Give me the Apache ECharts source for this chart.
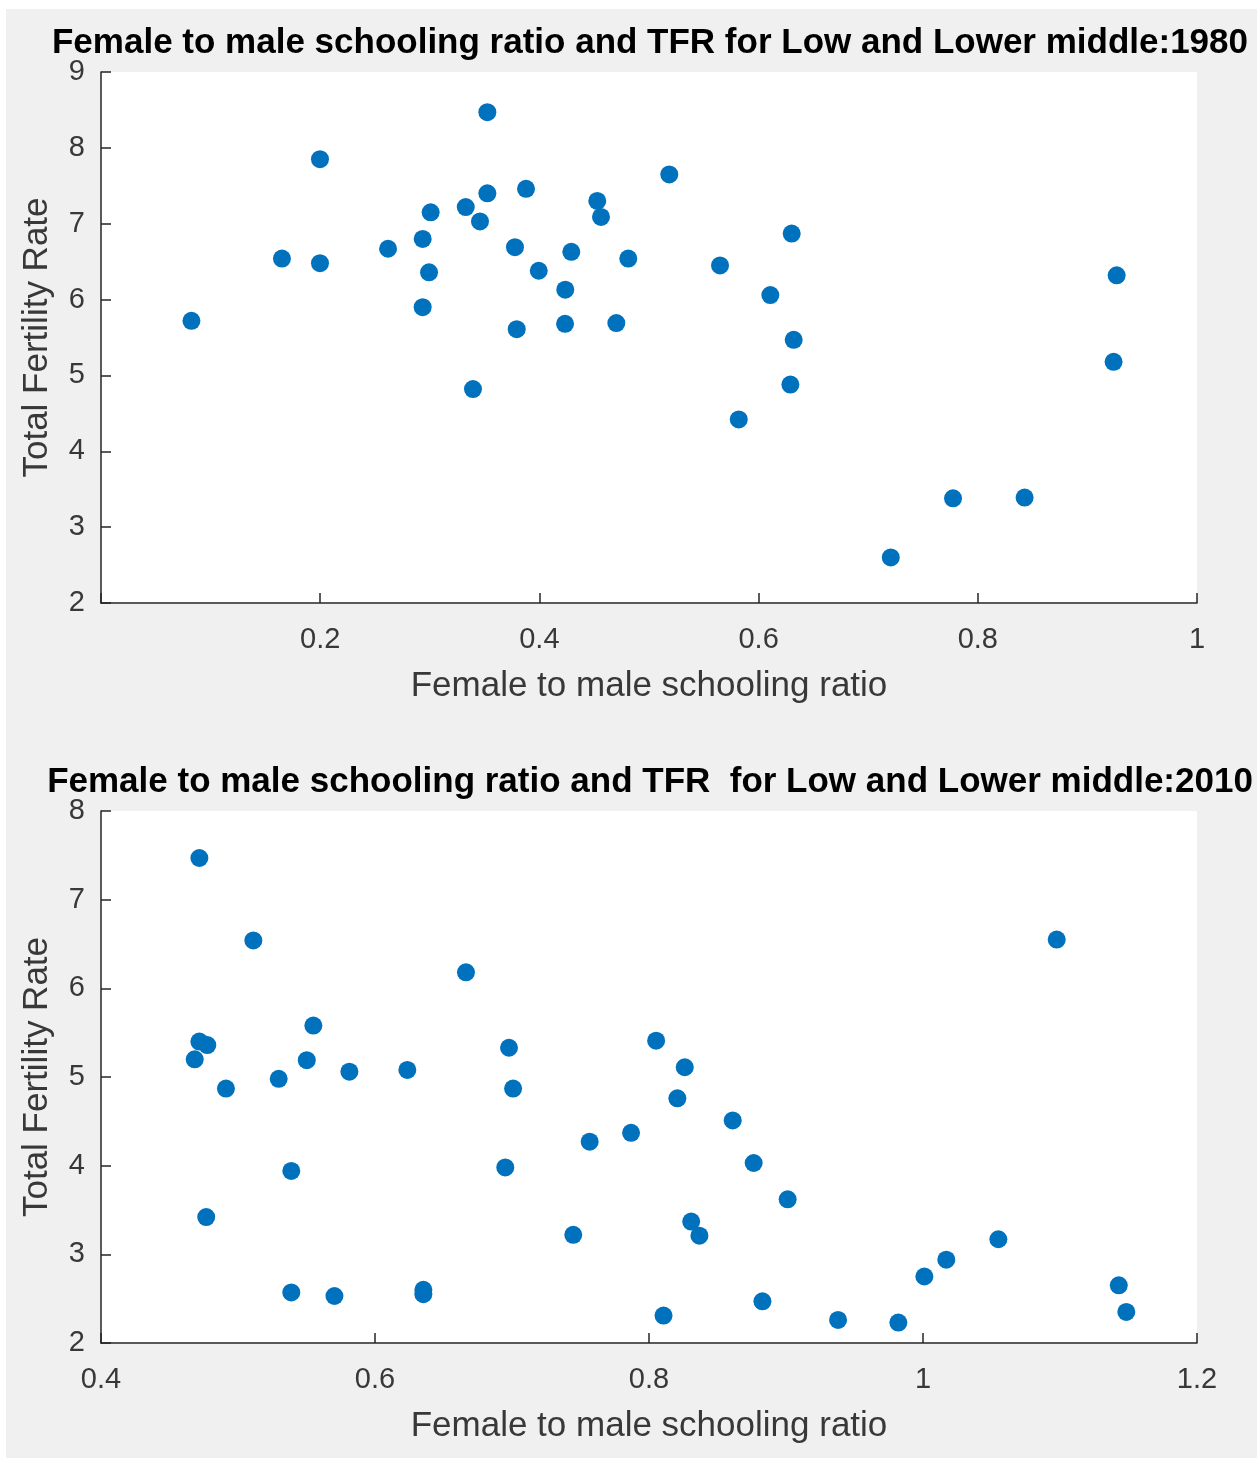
<!DOCTYPE html>
<html>
<head>
<meta charset="utf-8">
<title>Female to male schooling ratio and TFR</title>
<script src="https://cdn.jsdelivr.net/npm/echarts@6/dist/echarts.min.js"></script>
<style>
    html, body { margin: 0; padding: 0; background: #fff; }
    #frame { position: absolute; left: 6px; top: 9px; width: 1251px; height: 1449px; background: #f0f0f0; }
    #main { position: absolute; left: 0; top: 0; width: 1257px; height: 1458px; }
</style>
</head>
<body>
<div id="frame"></div>
<div id="main"></div>
<script>
// 1980 panel
var ratio1980 = [0.0825, 0.1651, 0.1998, 0.1998, 0.2619, 0.2935, 0.3008, 0.2993, 0.2935, 0.3328,
    0.3458, 0.3525, 0.3525, 0.3394, 0.3777, 0.3878, 0.3793, 0.3994, 0.4291, 0.4236,
    0.4234, 0.4528, 0.4562, 0.4702, 0.4811, 0.5185, 0.5648, 0.5819, 0.6107, 0.6302,
    0.6320, 0.6290, 0.7206, 0.7774, 0.8427, 0.9267, 0.9239]
var tfr1980 = [5.72, 6.54, 7.85, 6.48, 6.67, 6.80, 7.15, 6.36, 5.90, 7.22,
    7.03, 8.47, 7.40, 4.82, 6.69, 7.46, 5.61, 6.38, 6.63, 6.13,
    5.68, 7.30, 7.09, 5.69, 6.54, 7.65, 6.45, 4.42, 6.06, 6.87,
    5.47, 4.88, 2.60, 3.38, 3.39, 6.32, 5.18]

// 2010 panel
var ratio2010 = [0.4718, 0.5112, 0.6664, 1.0976, 0.5550, 0.4718, 0.4776, 0.4684, 0.5502, 0.5813,
    0.6236, 0.5297, 0.4912, 0.6978, 0.8052, 0.8261, 0.7008, 0.8207, 0.8611, 0.7567,
    0.7869, 0.6951, 0.8764, 0.5389, 0.4768, 0.7447, 0.5389, 0.5704, 0.6353, 0.6353,
    0.8106, 0.9012, 0.8308, 0.8368, 1.0550, 1.0170, 1.0010, 1.1429, 1.1484, 0.8828,
    0.9380, 0.9820]
var tfr2010 = [7.47, 6.54, 6.18, 6.55, 5.58, 5.40, 5.36, 5.20, 5.19, 5.06,
    5.08, 4.98, 4.87, 5.33, 5.41, 5.11, 4.87, 4.76, 4.51, 4.27,
    4.37, 3.98, 4.03, 3.94, 3.42, 3.22, 2.57, 2.53, 2.60, 2.55,
    2.31, 3.62, 3.37, 3.21, 3.17, 2.94, 2.75, 2.65, 2.35, 2.47,
    2.26, 2.23]

var titles = [
    'Female to male schooling ratio and TFR for Low and Lower middle:1980',
    'Female to male schooling ratio and TFR  for Low and Lower middle:2010'
]
var xName = 'Female to male schooling ratio'
var yName = 'Total Fertility Rate'

var font = '"Liberation Sans", Arial, Helvetica, sans-serif'
var axisColor = '#262626'
var textColor = '#383838'

function pairs(xs, ys) {
    return xs.map(function (x, i) { return [x, ys[i]] })
}

function xAxisFor(gridIndex, min, max) {
    return {
        type: 'value',
        gridIndex: gridIndex,
        min: min,
        max: max,
        interval: 0.2,
        name: xName,
        nameLocation: 'middle',
        nameGap: 66,
        nameTextStyle: { fontFamily: font, fontSize: 35, color: textColor },
        axisLine: { show: true, onZero: false, lineStyle: { color: axisColor, width: 1.5 } },
        axisTick: { show: true, inside: true, length: 10, lineStyle: { color: axisColor, width: 1.5 } },
        axisLabel: {
            margin: 22,
            fontFamily: font,
            fontSize: 29,
            color: textColor,
            formatter: function (v) { return v === 0 ? '' : String(+v.toFixed(1)) }
        },
        splitLine: { show: false }
    }
}

function yAxisFor(gridIndex, min, max) {
    return {
        type: 'value',
        gridIndex: gridIndex,
        min: min,
        max: max,
        interval: 1,
        name: yName,
        nameLocation: 'middle',
        nameGap: 46,
        nameTextStyle: { fontFamily: font, fontSize: 35, color: textColor },
        axisLine: { show: true, onZero: false, lineStyle: { color: axisColor, width: 1.5 } },
        axisTick: { show: true, inside: true, length: 10, lineStyle: { color: axisColor, width: 1.5 } },
        axisLabel: { margin: 16, fontFamily: font, fontSize: 29, color: textColor },
        splitLine: { show: false }
    }
}

var chart = echarts.init(document.getElementById('main'))
chart.setOption({
    backgroundColor: 'transparent',
    animation: false,
    title: [{
        text: titles[0],
        left: 650,
        top: 26,
        padding: 0,
        textAlign: 'center',
        textStyle: { fontFamily: font, fontSize: 35, fontWeight: 'bold', color: '#000' }
    }, {
        text: titles[1],
        left: 650,
        top: 765,
        padding: 0,
        textAlign: 'center',
        textStyle: { fontFamily: font, fontSize: 35, fontWeight: 'bold', color: '#000' }
    }],
    grid: [
        { left: 101, top: 72, width: 1096, height: 531, show: true, backgroundColor: '#fff', borderWidth: 0 },
        { left: 101, top: 811, width: 1096, height: 532, show: true, backgroundColor: '#fff', borderWidth: 0 }
    ],
    xAxis: [xAxisFor(0, 0, 1), xAxisFor(1, 0.4, 1.2)],
    yAxis: [yAxisFor(0, 2, 9), yAxisFor(1, 2, 8)],
    series: [{
        type: 'scatter',
        xAxisIndex: 0,
        yAxisIndex: 0,
        symbolSize: 18,
        itemStyle: { color: '#0072BD', opacity: 1 },
        data: pairs(ratio1980, tfr1980)
    }, {
        type: 'scatter',
        xAxisIndex: 1,
        yAxisIndex: 1,
        symbolSize: 18,
        itemStyle: { color: '#0072BD', opacity: 1 },
        data: pairs(ratio2010, tfr2010)
    }]
})
</script>
</body>
</html>
